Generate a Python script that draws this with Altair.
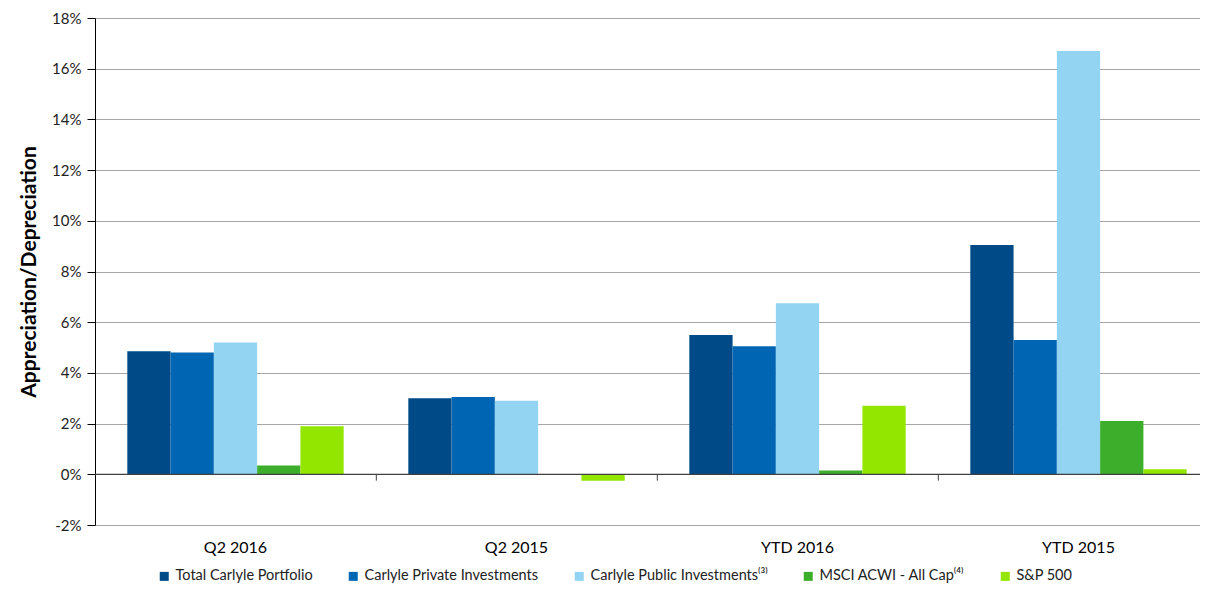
import altair as alt
import pandas as pd

categories = ["Q2 2016", "Q2 2015", "YTD 2016", "YTD 2015"]
series = [
    "Total Carlyle Portfolio",
    "Carlyle Private Investments",
    "Carlyle Public Investments⁽³⁾",
    "MSCI ACWI - All Cap⁽⁴⁾",
    "S&P 500",
]
colors = ["#004B87", "#0066B3", "#92D4F1", "#3DAE2B", "#92E600"]

total_portfolio = [4.85, 3.0, 5.5, 9.05]
private_inv = [4.8, 3.05, 5.05, 5.3]
public_inv = [5.2, 2.9, 6.75, 16.7]
msci_acwi = [0.35, 0.0, 0.15, 2.1]
sp500 = [1.9, -0.25, 2.7, 0.2]

values = [total_portfolio, private_inv, public_inv, msci_acwi, sp500]
rows = []
for s, vals in zip(series, values):
    for c, v in zip(categories, vals):
        rows.append({"category": c, "series": s, "value": v})
df = pd.DataFrame(rows)

boundaries = pd.DataFrame({"category": categories[1:]})

FONT = "Lato"
PLOT_W = 1105
PLOT_H = 507
BAND_RANGE = 1124

xscale = alt.Scale(domain=categories, range=[0, BAND_RANGE], paddingInner=0.23, paddingOuter=0.115)

bars = alt.Chart(df).mark_bar().encode(
    x=alt.X("category:N", sort=categories, scale=xscale,
            axis=alt.Axis(title=None, labelAngle=0, ticks=False, domain=False,
                          labelFontSize=16, labelColor="#000000", labelPadding=14,
                          labelFont=FONT, labelFontWeight="normal")),
    xOffset=alt.XOffset("series:N", sort=series, scale=alt.Scale(domain=series, paddingInner=0, paddingOuter=0)),
    y=alt.Y("value:Q", scale=alt.Scale(domain=[-2, 18], nice=False),
            axis=alt.Axis(title="Appreciation/Depreciation", values=list(range(-2, 19, 2)),
                          labelExpr="datum.value + '%'", labelFontSize=15, labelColor="#222222",
                          labelFont=FONT, titleFont=FONT, titleFontSize=21, titleFontWeight="bold",
                          titleColor="#000000", titlePadding=12, tickSize=8, tickColor="#000000",
                          domainColor="#000000", gridColor="#A6A6A6", labelPadding=6)),
    color=alt.Color("series:N", sort=series, scale=alt.Scale(domain=series, range=colors),
                    legend=alt.Legend(title=None, orient="none", legendX=62, legendY=551,
                                      direction="horizontal",
                                      symbolType="square", symbolSize=81, symbolStrokeWidth=0,
                                      labelFontSize=14.5, labelFont=FONT, labelColor="#222222",
                                      labelLimit=0, columnPadding=33, labelOffset=4,
                                      symbolOffset=0)),
)

zero = alt.Chart(pd.DataFrame({"v": [0]})).mark_rule(color="#404040", strokeWidth=1.2).encode(
    y=alt.Y("v:Q")
)

ticks = alt.Chart(boundaries).mark_rule(color="#404040", strokeWidth=1, xOffset=-32).encode(
    x=alt.X("category:N", sort=categories, scale=xscale, bandPosition=0),
    y=alt.datum(0),
    y2=alt.datum(-0.25),
)

chart = alt.layer(bars, zero, ticks).properties(
    width=PLOT_W, height=PLOT_H,
    autosize=alt.AutoSizeParams(type="none"),
    padding={"left": 87, "top": 10, "right": 0, "bottom": 61},
).configure(font=FONT).configure_view(stroke="transparent", strokeWidth=0)

chart.save("out.html", embed_options={"renderer": "svg", "actions": False})
